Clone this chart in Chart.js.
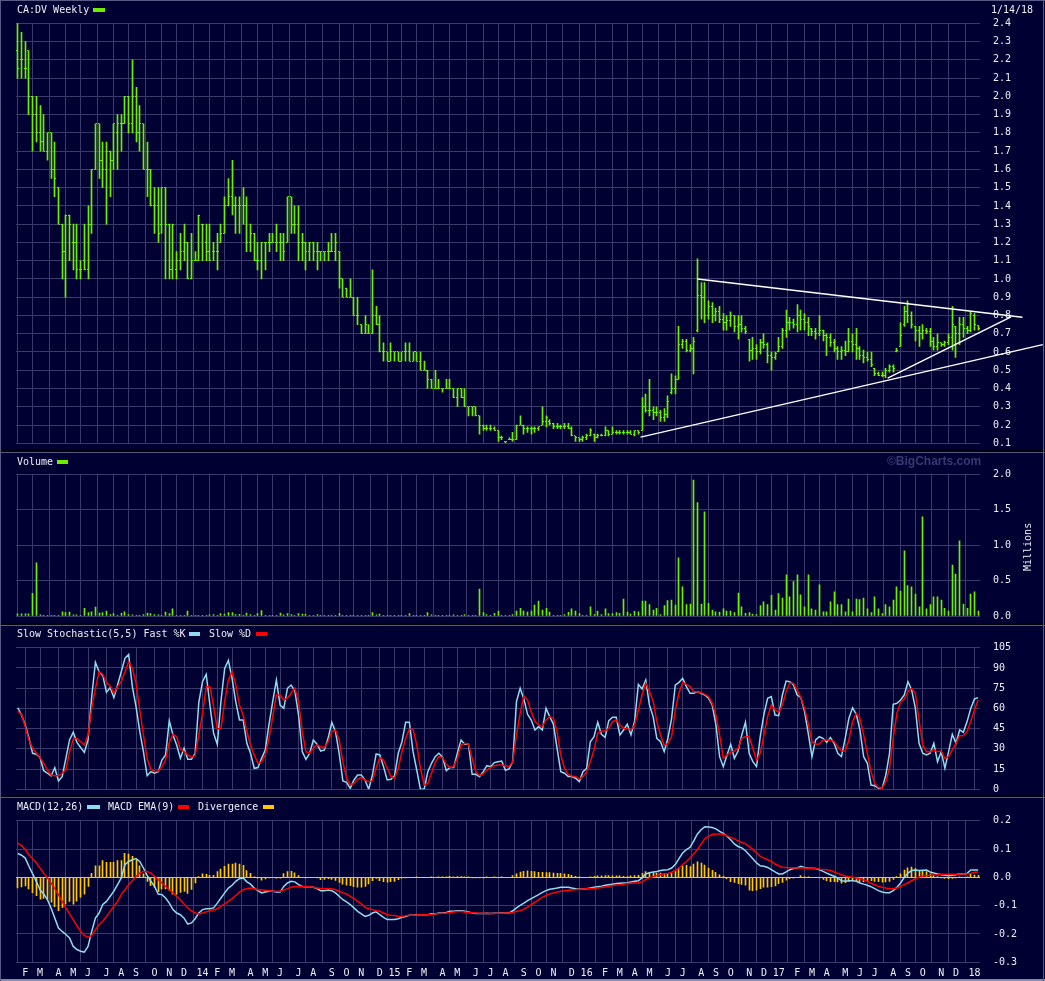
<!DOCTYPE html>
<html lang="en">
<head>
<meta charset="UTF-8">
<title>CA:DV Weekly</title>
<script src="https://cdn.jsdelivr.net/npm/chart.js"></script>
<style>
  body { margin: 0; width: 1045px; height: 981px; background: #000033; position: relative; overflow: hidden;
         font-family: "DejaVu Sans Mono", monospace; font-size: 10px; color: #eeeef4; }
  canvas { position: absolute; left: 0; }
  .txt { position: absolute; white-space: pre; line-height: 10px; }
  .sw { position: absolute; height: 4px; }
  .rule { position: absolute; left: 0; width: 1045px; }
  .vrule { position: absolute; top: 0; height: 981px; width: 1px; background: #5a5a86; }
</style>
</head>
<body>
<canvas id="priceChart" width="1045" height="452" style="top:0"></canvas>
<canvas id="volChart" width="1045" height="172" style="top:452px"></canvas>
<canvas id="stochChart" width="1045" height="171" style="top:625px"></canvas>
<canvas id="macdChart" width="1045" height="184" style="top:797px"></canvas>

<!-- panel frames -->
<div class="rule" style="top:0;height:1px;background:#5a5a86"></div>
<div class="rule" style="top:450px;height:2px;background:#000008"></div>
<div class="rule" style="top:452px;height:1px;background:#5a5a86"></div>
<div class="rule" style="top:623px;height:2px;background:#000008"></div>
<div class="rule" style="top:625px;height:1px;background:#5a5a86"></div>
<div class="rule" style="top:795px;height:2px;background:#000008"></div>
<div class="rule" style="top:797px;height:1px;background:#5a5a86"></div>
<div class="rule" style="top:979px;height:2px;background:#8a8aa8"></div>
<div class="vrule" style="left:0"></div>
<div class="vrule" style="left:1043px"></div>

<!-- titles and legends -->
<div class="txt" style="left:17px;top:5px">CA:DV Weekly</div>
<div class="sw" style="left:93px;top:8px;width:12px;background:#6cf000"></div>
<div class="txt" style="left:991px;top:5px">1/14/18</div>

<div class="txt" style="left:17px;top:457px">Volume</div>
<div class="sw" style="left:57px;top:460px;width:11px;background:#6cf000"></div>
<div class="txt" style="left:887px;top:455px;font:bold 12px 'Liberation Sans',sans-serif;line-height:12px;color:#383872">©BigCharts.com</div>
<div class="txt" style="left:1004px;top:542px;width:48px;text-align:center;transform:rotate(-90deg)">Millions</div>

<div class="txt" style="left:17px;top:629px">Slow Stochastic(5,5) Fast %K</div>
<div class="sw" style="left:189px;top:632px;width:11px;background:#8fdcec"></div>
<div class="txt" style="left:209px;top:629px">Slow %D</div>
<div class="sw" style="left:256px;top:632px;width:11px;background:#ff0000"></div>

<div class="txt" style="left:17px;top:802px">MACD(12,26)</div>
<div class="sw" style="left:87px;top:805px;width:13px;background:#8fdcec"></div>
<div class="txt" style="left:108px;top:802px">MACD EMA(9)</div>
<div class="sw" style="left:178px;top:805px;width:11px;background:#ff0000"></div>
<div class="txt" style="left:198px;top:802px">Divergence</div>
<div class="sw" style="left:263px;top:805px;width:11px;background:#ffc800"></div>

<script>
// weekly bars, weeks ending on Sunday, first week ends 2013-01-20
const firstWeek = Date.UTC(2013, 0, 20);
const monthLetters = ['J', 'F', 'M', 'A', 'M', 'J', 'J', 'A', 'S', 'O', 'N', 'D'];

const high = [
  2.40,2.35,2.30,2.25,2.00,2.00,1.95,1.90,1.80,1.80, 1.75,1.50,1.30,1.35,1.35,1.30,1.30,1.10,1.30,1.40,
  1.60,1.85,1.85,1.75,1.75,1.70,1.85,1.90,1.90,2.00, 2.00,2.20,2.05,1.95,1.85,1.75,1.60,1.50,1.50,1.50,
  1.50,1.30,1.30,1.15,1.25,1.30,1.20,1.25,1.15,1.35, 1.30,1.30,1.30,1.20,1.25,1.30,1.45,1.55,1.65,1.45,
  1.45,1.50,1.45,1.30,1.25,1.20,1.20,1.20,1.25,1.25, 1.30,1.25,1.25,1.45,1.45,1.40,1.40,1.25,1.20,1.20,
  1.20,1.20,1.15,1.15,1.20,1.25,1.25,1.15,1.00,0.95, 1.00,0.90,0.90,0.75,0.80,0.75,1.05,0.85,0.80,0.65,
  0.60,0.65,0.60,0.60,0.60,0.65,0.65,0.60,0.60,0.60, 0.55,0.50,0.45,0.50,0.45,0.40,0.45,0.45,0.40,0.40,
  0.40,0.40,0.30,0.30,0.30,0.25,0.20,0.20,0.20,0.19, 0.17,0.14,0.11,0.13,0.16,0.20,0.25,0.20,0.19,0.19,
  0.19,0.19,0.30,0.25,0.23,0.21,0.21,0.20,0.21,0.21, 0.19,0.14,0.13,0.14,0.15,0.18,0.15,0.15,0.15,0.19,
  0.17,0.19,0.17,0.17,0.17,0.17,0.17,0.17,0.17,0.35, 0.37,0.45,0.30,0.30,0.28,0.29,0.36,0.48,0.47,0.74,
  0.67,0.67,0.64,0.68,1.11,0.98,0.98,0.88,0.87,0.84, 0.85,0.81,0.80,0.82,0.80,0.80,0.80,0.74,0.67,0.68,
  0.64,0.67,0.70,0.65,0.60,0.60,0.68,0.73,0.83,0.79, 0.78,0.86,0.83,0.81,0.79,0.73,0.73,0.80,0.72,0.70,
  0.70,0.67,0.63,0.63,0.66,0.73,0.70,0.73,0.63,0.61, 0.60,0.60,0.51,0.49,0.49,0.51,0.53,0.53,0.62,0.76,
  0.85,0.88,0.82,0.74,0.74,0.75,0.73,0.73,0.68,0.70, 0.65,0.66,0.70,0.85,0.74,0.79,0.79,0.74,0.82,0.81,
  0.745
];
const low = [
  2.10,2.10,2.10,1.90,1.70,1.75,1.70,1.70,1.65,1.55, 1.45,1.30,1.00,0.90,1.10,1.05,1.00,1.00,1.05,1.00,
  1.25,1.60,1.55,1.50,1.30,1.45,1.60,1.60,1.70,1.85, 1.80,1.80,1.75,1.70,1.60,1.45,1.40,1.25,1.20,1.25,
  1.00,1.00,1.00,1.00,1.05,1.10,1.00,1.00,1.10,1.10, 1.10,1.10,1.10,1.10,1.05,1.20,1.25,1.40,1.35,1.25,
  1.25,1.30,1.15,1.15,1.10,1.05,1.00,1.05,1.15,1.20, 1.15,1.10,1.10,1.20,1.25,1.25,1.10,1.10,1.05,1.10,
  1.10,1.05,1.10,1.10,1.10,1.15,1.10,0.95,0.90,0.90, 0.90,0.80,0.75,0.70,0.70,0.70,0.70,0.75,0.60,0.55,
  0.55,0.55,0.55,0.55,0.55,0.55,0.55,0.55,0.55,0.50, 0.50,0.40,0.40,0.40,0.40,0.38,0.40,0.40,0.35,0.30,
  0.35,0.30,0.25,0.25,0.25,0.15,0.17,0.17,0.17,0.17, 0.11,0.12,0.10,0.12,0.11,0.12,0.20,0.15,0.16,0.15,
  0.16,0.17,0.20,0.19,0.20,0.18,0.18,0.18,0.18,0.18, 0.14,0.11,0.11,0.11,0.12,0.14,0.11,0.13,0.14,0.14,
  0.14,0.15,0.15,0.15,0.15,0.15,0.15,0.14,0.15,0.17, 0.27,0.25,0.23,0.25,0.22,0.22,0.24,0.37,0.37,0.45,
  0.62,0.60,0.60,0.48,0.71,0.78,0.76,0.78,0.76,0.77, 0.76,0.72,0.72,0.74,0.71,0.67,0.71,0.70,0.55,0.56,
  0.56,0.59,0.62,0.54,0.50,0.56,0.60,0.62,0.68,0.72, 0.73,0.71,0.72,0.72,0.69,0.69,0.67,0.69,0.66,0.58,
  0.63,0.60,0.56,0.56,0.58,0.60,0.60,0.56,0.56,0.54, 0.55,0.52,0.47,0.47,0.465,0.46,0.49,0.49,0.60,0.63,
  0.74,0.76,0.73,0.66,0.63,0.67,0.70,0.63,0.61,0.61, 0.63,0.63,0.64,0.61,0.57,0.64,0.68,0.70,0.71,0.72,
  0.72
];
const open = [
  2.25,2.20,2.15,2.25,2.00,1.90,1.80,1.75,1.70,1.80, 1.60,1.50,1.30,1.15,1.35,1.20,1.20,1.05,1.10,1.05,
  1.30,1.60,1.85,1.65,1.60,1.70,1.65,1.80,1.85,1.85, 2.00,1.85,2.00,1.80,1.85,1.60,1.60,1.40,1.40,1.30,
  1.50,1.30,1.05,1.05,1.10,1.15,1.20,1.00,1.10,1.10, 1.30,1.20,1.15,1.15,1.15,1.20,1.25,1.40,1.45,1.40,
  1.40,1.40,1.40,1.20,1.25,1.10,1.10,1.20,1.20,1.20, 1.20,1.20,1.20,1.20,1.45,1.30,1.30,1.20,1.20,1.15,
  1.20,1.15,1.15,1.15,1.15,1.15,1.15,1.15,1.00,0.95, 0.90,0.90,0.80,0.75,0.70,0.70,0.70,0.80,0.75,0.60,
  0.60,0.55,0.60,0.60,0.55,0.60,0.60,0.55,0.60,0.55, 0.50,0.50,0.45,0.40,0.40,0.40,0.40,0.40,0.40,0.35,
  0.40,0.35,0.30,0.30,0.30,0.25,0.20,0.18,0.18,0.18, 0.17,0.13,0.11,0.12,0.12,0.12,0.20,0.20,0.18,0.18,
  0.18,0.18,0.20,0.22,0.22,0.21,0.19,0.19,0.19,0.19, 0.18,0.14,0.13,0.12,0.13,0.14,0.15,0.13,0.14,0.14,
  0.17,0.15,0.16,0.16,0.16,0.16,0.16,0.15,0.17,0.17, 0.30,0.28,0.28,0.27,0.27,0.24,0.26,0.38,0.40,0.45,
  0.64,0.66,0.61,0.62,0.72,0.91,0.90,0.80,0.85,0.80, 0.82,0.78,0.76,0.77,0.80,0.74,0.75,0.73,0.67,0.61,
  0.62,0.60,0.65,0.64,0.58,0.57,0.60,0.63,0.72,0.76, 0.76,0.75,0.80,0.78,0.76,0.73,0.71,0.70,0.72,0.69,
  0.68,0.65,0.62,0.60,0.61,0.60,0.66,0.64,0.62,0.58, 0.57,0.56,0.51,0.48,0.47,0.47,0.50,0.52,0.60,0.63,
  0.75,0.82,0.80,0.74,0.72,0.70,0.72,0.71,0.66,0.63, 0.65,0.64,0.65,0.68,0.74,0.70,0.75,0.73,0.72,0.80,
  0.745
];
const close = [
  2.15,2.20,2.15,2.00,1.90,1.80,1.75,1.70,1.80,1.60, 1.55,1.30,1.15,1.35,1.30,1.20,1.05,1.05,1.05,1.30,
  1.60,1.85,1.65,1.60,1.70,1.65,1.85,1.85,1.85,2.00, 1.85,2.00,1.80,1.85,1.60,1.60,1.40,1.40,1.25,1.50,
  1.30,1.05,1.30,1.10,1.15,1.20,1.00,1.10,1.10,1.35, 1.30,1.15,1.10,1.15,1.15,1.25,1.40,1.45,1.40,1.40,
  1.40,1.40,1.20,1.25,1.10,1.10,1.20,1.20,1.20,1.20, 1.20,1.20,1.15,1.45,1.30,1.30,1.20,1.20,1.15,1.20,
  1.15,1.15,1.15,1.15,1.15,1.15,1.20,1.00,0.90,0.90, 0.90,0.80,0.80,0.70,0.75,0.70,0.80,0.75,0.60,0.60,
  0.55,0.60,0.60,0.55,0.60,0.60,0.55,0.60,0.55,0.50, 0.50,0.45,0.40,0.40,0.40,0.40,0.40,0.40,0.35,0.40,
  0.35,0.30,0.30,0.30,0.25,0.20,0.18,0.18,0.18,0.17, 0.13,0.13,0.11,0.12,0.12,0.20,0.20,0.18,0.18,0.18,
  0.18,0.19,0.22,0.24,0.21,0.19,0.19,0.19,0.19,0.18, 0.14,0.13,0.12,0.13,0.14,0.17,0.13,0.14,0.14,0.17,
  0.15,0.16,0.16,0.16,0.16,0.16,0.15,0.17,0.16,0.30, 0.28,0.28,0.27,0.27,0.24,0.26,0.33,0.40,0.45,0.64,
  0.66,0.61,0.62,0.66,0.91,0.90,0.80,0.85,0.80,0.82, 0.78,0.76,0.77,0.80,0.74,0.75,0.73,0.71,0.61,0.62,
  0.60,0.65,0.64,0.58,0.57,0.59,0.63,0.72,0.76,0.76, 0.75,0.80,0.78,0.76,0.74,0.71,0.70,0.72,0.69,0.68,
  0.65,0.62,0.60,0.61,0.60,0.66,0.64,0.62,0.58,0.57, 0.56,0.53,0.48,0.47,0.47,0.50,0.52,0.51,0.61,0.69,
  0.82,0.80,0.75,0.72,0.70,0.72,0.71,0.66,0.63,0.65, 0.64,0.65,0.68,0.75,0.70,0.75,0.73,0.72,0.81,0.75,
  0.73
];
// volume, millions of shares
const volume = [
  0.03,0.03,0.03,0.03,0.32,0.75,0.015,0.005,0.005,0.003, 0.005,0.002,0.06,0.05,0.055,0.015,0.015,0.004,0.11,0.047,
  0.06,0.127,0.042,0.047,0.07,0.02,0.033,0.005,0.038,0.06, 0.02,0.015,0.01,0.005,0.02,0.042,0.033,0.02,0.015,0.01,
  0.056,0.033,0.1,0.01,0.005,0.002,0.07,0.01,0.003,0.003, 0.002,0.01,0.015,0.02,0.003,0.033,0.028,0.047,0.047,0.02,
  0.024,0.003,0.042,0.02,0.01,0.033,0.075,0.01,0.005,0.002, 0.005,0.042,0.015,0.033,0.02,0.003,0.033,0.028,0.024,0.002,
  0.01,0.02,0.002,0.005,0.002,0.005,0.002,0.033,0.01,0.002, 0.002,0.002,0.01,0.002,0.002,0.002,0.047,0.015,0.028,0.005,
  0.002,0.002,0.002,0.005,0.005,0.005,0.033,0.002,0.002,0.01, 0.002,0.047,0.015,0.005,0.002,0.002,0.005,0.002,0.015,0.002,
  0.002,0.02,0.005,0.002,0.002,0.38,0.047,0.02,0.002,0.038, 0.07,0.005,0.002,0.002,0.02,0.07,0.108,0.07,0.056,0.07,
  0.155,0.21,0.085,0.108,0.056,0.005,0.002,0.005,0.02,0.052, 0.1,0.07,0.033,0.002,0.005,0.13,0.02,0.07,0.02,0.1,
  0.033,0.033,0.047,0.038,0.24,0.056,0.028,0.066,0.06,0.21, 0.21,0.16,0.085,0.11,0.02,0.146,0.216,0.226,0.155,0.82,
  0.41,0.16,0.17,1.92,1.6,0.17,1.47,0.18,0.085,0.06, 0.056,0.1,0.07,0.07,0.047,0.325,0.13,0.038,0.047,0.028,
  0.02,0.146,0.2,0.16,0.29,0.085,0.315,0.254,0.58,0.27, 0.485,0.58,0.3,0.13,0.58,0.1,0.085,0.44,0.06,0.06,
  0.2,0.34,0.16,0.16,0.06,0.24,0.06,0.24,0.23,0.254, 0.1,0.047,0.27,0.1,0.033,0.16,0.13,0.226,0.41,0.35,
  0.92,0.43,0.41,0.31,0.13,1.4,0.1,0.16,0.27,0.27, 0.226,0.108,0.07,0.72,0.59,1.06,0.17,0.11,0.31,0.34,
  0.07
];
const stochK = [
  60.5,55,47.7,38,26.7,26,23.7,13.8,11.9,9.9, 16,6.2,9.4,23,36.6,42.3,34.8,31,27.4,36.6,
  68.7,94.1,87.2,84.3,71.9,75.4,68,77.3,87.2,97.1, 100,76.1,61.3,43.2,27.9,10.1,13.1,11.9,13.1,21.7,
  25.5,50.9,40.3,32.9,23,30.4,22.2,22.2,26.7,64.5, 79.8,85.2,62.5,41.5,33.4,65.5,89.7,95.6,82.3,65,
  51.4,51.4,34.1,26.7,15.6,16.1,23,29.2,48.2,65, 81,62.5,60,74.9,77.3,72.9,55.1,27.9,22.2,26.7,
  36.6,33.4,28.4,29.2,37.8,49.7,42.7,26.7,6.2,5.2, 0.7,6.9,10.6,10.6,6.9,0,10.6,26.2,25.5,16.8,
  6.9,7.4,10.1,26.7,35.3,49.7,49.7,27.9,14.3,0, 0,13.1,19.3,24.2,26.7,23.7,13.8,16.1,16.1,26.7,
  36.6,33.4,33.4,11.1,11.1,9.4,13.1,17.5,16.8,19.8, 20.5,21,14.1,15.1,20.5,65,74.9,67,55.6,51.4,
  44,46.5,44,60,53.9,48.2,30.4,13.1,11.9,9.4, 9.4,8.2,5.7,13.1,15.6,35.3,39,49.7,40.8,38.5,
  50.9,53.4,53.4,40.3,44,48.2,40.3,50.7,77.8,74.4, 81,62.5,53.9,37.8,35.3,27.9,37.8,52.6,77.3,79.3,
  82.3,76.1,71.2,71.2,72.4,71.2,69.9,67.5,62.5,47.7, 24.2,16.8,25.5,33.4,23,28.4,40.3,49.7,26.7,20.5,
  16.8,39,55.6,67.5,68.7,55.1,54.6,69.9,80.3,79.8, 77.3,69.9,68,57.6,41.5,24.2,36.6,39,37.8,34.8,
  38.3,34.1,26.7,24.2,37.8,52.6,60.5,55.6,44,24.2, 19.3,3.2,2.7,0.7,0.7,10.6,26.7,63,63.8,66.2,
  69.9,79.8,73.6,60,34.1,26.7,25.5,26.7,34.1,20.5, 27.9,15.6,27.9,40.8,34.1,44,42.3,50.2,60,67,
  68
];
const stochD = [
  58,55.6,46.5,36.6,30.4,26.7,23.7,19.3,14.3,10.6, 10.1,10.1,11.9,14.3,27.9,37.1,37.8,35.3,32.9,40.3,
  60,74.9,87.2,85.2,79.3,76.6,71.2,76.1,79.8,87.2, 94.6,89.7,78.6,58.8,40.3,23,15.1,13.1,13.6,16.8,
  21.7,34.8,40.8,39,29.7,27.9,25.5,23.7,25,40.3, 56.3,76.1,76.1,61.3,44.7,45.2,65,81,87.2,77.8,
  62.5,55.1,42.7,32.9,25.5,19.3,20.5,25.5,37.8,53.9, 69.9,69.9,66.2,67.5,71.2,74.9,65,42.7,27.9,26.7,
  30.4,32.9,31.6,30.9,35.3,42.7,44,36.6,20.5,8.2, 3.2,4.4,7.4,8.9,6.9,5.7,6.2,15.6,23.5,21.7,
  15.6,9.4,8.2,15.6,27.9,37.8,44.5,44.5,32.9,15.6, 3.2,4.4,11.9,20,24.2,23.5,18.5,16.1,16.8,23,
  32.9,34.1,33.4,23,13.1,10.1,11.4,14.3,16.1,17.5, 18,18,17.5,16.8,20.5,40.3,56.3,69.4,66.2,57.6,
  50.2,47.7,46.5,51.4,53.9,52.6,42.7,25.5,15.6,11.1, 9.9,9.4,7.7,9.4,13.1,20.5,29.2,41.5,43.2,43.2,
  45.2,50.2,51.4,47.7,45.2,44.7,44,47.7,58.8,69.9, 78.6,72.4,65.5,50.2,40.3,32.4,34.1,39,58.8,71.2,
  79.3,77.8,76.1,72.4,72.4,71.7,70.4,68.7,63.8,55.1, 40.3,23,25.5,27.4,28.4,30.4,37.8,39,39,30.4,
  21.7,26.7,40.3,53.9,62.5,58.8,57.1,62.5,72.4,78.6, 78.6,73.6,68,60,48.9,35.3,33.4,33.6,36.6,36.6,
  36.6,35.3,31.6,28.4,28.4,36.6,50.2,56.3,52.6,40.3, 26.7,13.1,4.4,1.2,0.7,5.7,15.6,37.8,56.3,64.5,
  67,72.4,74.9,71.2,51.4,32.9,27.9,27.9,29.2,27.9, 28.4,23,24.2,29.2,34.1,39.8,39.8,42.7,50.2,58.8,
  66.2
];
const macd = [
  0.084,0.078,0.068,0.039,0.012,-0.014,-0.044,-0.059,-0.079,-0.108, -0.144,-0.179,-0.191,-0.202,-0.214,-0.244,-0.255,-0.261,-0.264,-0.244,
  -0.191,-0.144,-0.126,-0.096,-0.085,-0.067,-0.049,-0.026,-0.002,0.045, 0.056,0.062,0.066,0.056,0.033,0.007,-0.014,-0.032,-0.059,-0.061,
  -0.073,-0.091,-0.114,-0.126,-0.132,-0.144,-0.165,-0.161,-0.146,-0.126, -0.114,-0.111,-0.111,-0.108,-0.091,-0.073,-0.055,-0.038,-0.028,-0.014,
  -0.005,-0.002,-0.016,-0.024,-0.038,-0.047,-0.055,-0.052,-0.049,-0.049, -0.052,-0.052,-0.032,-0.020,-0.014,-0.016,-0.026,-0.032,-0.033,-0.033,
  -0.035,-0.040,-0.047,-0.047,-0.045,-0.047,-0.055,-0.067,-0.079,-0.087, -0.096,-0.108,-0.120,-0.129,-0.138,-0.134,-0.126,-0.122,-0.132,-0.141,
  -0.149,-0.149,-0.149,-0.146,-0.141,-0.138,-0.134,-0.134,-0.132,-0.132, -0.132,-0.132,-0.129,-0.129,-0.126,-0.126,-0.124,-0.120,-0.120,-0.118,
  -0.118,-0.120,-0.122,-0.126,-0.128,-0.128,-0.128,-0.127,-0.128,-0.127, -0.127,-0.126,-0.126,-0.126,-0.118,-0.108,-0.099,-0.091,-0.082,-0.075,
  -0.068,-0.061,-0.053,-0.047,-0.042,-0.040,-0.038,-0.035,-0.035,-0.035, -0.038,-0.040,-0.041,-0.041,-0.040,-0.038,-0.035,-0.033,-0.031,-0.028,
  -0.026,-0.024,-0.022,-0.021,-0.020,-0.019,-0.016,-0.014,-0.012,-0.002, 0.012,0.016,0.019,0.021,0.024,0.026,0.027,0.033,0.045,0.066,
  0.086,0.098,0.106,0.129,0.153,0.168,0.179,0.178,0.176,0.171, 0.162,0.155,0.145,0.133,0.118,0.109,0.104,0.094,0.080,0.066,
  0.051,0.041,0.039,0.035,0.027,0.019,0.012,0.012,0.019,0.027, 0.031,0.033,0.039,0.035,0.033,0.032,0.031,0.027,0.021,0.015,
  0.009,0.004,-0.002,-0.012,-0.014,-0.012,-0.012,-0.014,-0.020,-0.024, -0.028,-0.033,-0.040,-0.047,-0.052,-0.054,-0.054,-0.047,-0.035,-0.020,
  0.000,0.015,0.024,0.026,0.024,0.025,0.026,0.019,0.015,0.012, 0.009,0.007,0.006,0.007,0.009,0.013,0.012,0.014,0.026,0.026,
  0.026
];
const macdSignal = [
  0.121,0.112,0.098,0.080,0.066,0.051,0.033,0.015,-0.002,-0.020, -0.040,-0.061,-0.085,-0.108,-0.129,-0.149,-0.171,-0.191,-0.205,-0.212,
  -0.205,-0.185,-0.167,-0.155,-0.138,-0.120,-0.102,-0.085,-0.061,-0.044, -0.026,-0.012,0.004,0.015,0.021,0.021,0.015,0.004,-0.008,-0.020,
  -0.032,-0.044,-0.055,-0.067,-0.079,-0.094,-0.108,-0.118,-0.126,-0.129, -0.126,-0.122,-0.118,-0.115,-0.111,-0.102,-0.094,-0.085,-0.075,-0.064,
  -0.052,-0.044,-0.040,-0.038,-0.040,-0.044,-0.045,-0.046,-0.047,-0.049, -0.049,-0.049,-0.045,-0.040,-0.035,-0.032,-0.032,-0.032,-0.032,-0.033,
  -0.035,-0.038,-0.039,-0.040,-0.040,-0.040,-0.044,-0.049,-0.055,-0.059, -0.067,-0.075,-0.085,-0.094,-0.106,-0.111,-0.114,-0.118,-0.120,-0.126,
  -0.132,-0.134,-0.135,-0.138,-0.138,-0.136,-0.134,-0.134,-0.133,-0.132, -0.132,-0.132,-0.131,-0.129,-0.128,-0.127,-0.126,-0.124,-0.122,-0.121,
  -0.121,-0.122,-0.124,-0.125,-0.126,-0.127,-0.127,-0.128,-0.128,-0.128, -0.127,-0.127,-0.126,-0.126,-0.124,-0.120,-0.118,-0.112,-0.105,-0.096,
  -0.088,-0.079,-0.071,-0.064,-0.059,-0.055,-0.052,-0.049,-0.047,-0.046, -0.045,-0.044,-0.042,-0.041,-0.040,-0.040,-0.039,-0.038,-0.036,-0.034,
  -0.032,-0.029,-0.027,-0.026,-0.024,-0.022,-0.021,-0.020,-0.019,-0.016, -0.008,-0.002,0.002,0.006,0.009,0.012,0.014,0.018,0.024,0.033,
  0.045,0.056,0.068,0.082,0.098,0.118,0.136,0.145,0.151,0.153, 0.153,0.151,0.147,0.141,0.136,0.129,0.124,0.118,0.109,0.098,
  0.086,0.074,0.068,0.062,0.056,0.047,0.041,0.036,0.035,0.034, 0.033,0.033,0.033,0.033,0.032,0.032,0.031,0.029,0.028,0.027,
  0.024,0.019,0.014,0.009,0.005,0.002,0.000,-0.002,-0.005,-0.009, -0.014,-0.021,-0.026,-0.032,-0.035,-0.038,-0.040,-0.040,-0.038,-0.032,
  -0.026,-0.019,-0.012,-0.005,0.001,0.004,0.006,0.007,0.008,0.009, 0.011,0.011,0.011,0.011,0.011,0.012,0.012,0.012,0.014,0.018,
  0.019
];
const divergence = [
  -0.037,-0.034,-0.030,-0.041,-0.054,-0.065,-0.077,-0.074,-0.077,-0.088, -0.104,-0.118,-0.106,-0.094,-0.085,-0.095,-0.084,-0.070,-0.059,-0.032,
  0.014,0.041,0.041,0.059,0.053,0.053,0.053,0.059,0.059,0.085, 0.082,0.074,0.062,0.041,0.012,-0.014,-0.029,-0.036,-0.051,-0.041,
  -0.041,-0.047,-0.059,-0.059,-0.053,-0.050,-0.057,-0.043,-0.020,0.003, 0.012,0.011,0.007,0.007,0.020,0.029,0.039,0.047,0.047,0.050,
  0.047,0.042,0.024,0.014,0.002,-0.003,-0.010,-0.006,-0.002,0.000, -0.003,-0.003,0.013,0.020,0.021,0.016,0.006,0.000,-0.001,0.000,
  0.000,-0.002,-0.008,-0.007,-0.005,-0.007,-0.011,-0.018,-0.024,-0.028, -0.029,-0.033,-0.035,-0.035,-0.032,-0.023,-0.012,-0.004,-0.012,-0.015,
  -0.017,-0.015,-0.014,-0.008,-0.003,-0.002,0.000,0.000,0.001,0.000, 0.000,0.000,0.002,0.000,0.002,0.001,0.002,0.004,0.002,0.003,
  0.003,0.002,0.002,-0.001,-0.002,-0.001,-0.001,0.001,0.000,0.001, 0.000,0.001,0.000,0.000,0.006,0.012,0.019,0.021,0.023,0.021,
  0.020,0.018,0.018,0.017,0.017,0.015,0.014,0.014,0.012,0.011, 0.007,0.004,0.001,0.000,0.000,0.002,0.004,0.005,0.005,0.006,
  0.006,0.005,0.005,0.005,0.004,0.003,0.005,0.006,0.007,0.014, 0.020,0.018,0.017,0.015,0.015,0.014,0.013,0.015,0.021,0.033,
  0.041,0.042,0.038,0.047,0.055,0.050,0.043,0.033,0.025,0.018, 0.009,0.004,-0.005,-0.015,-0.018,-0.022,-0.025,-0.028,-0.045,-0.047,
  -0.045,-0.040,-0.035,-0.035,-0.033,-0.030,-0.022,-0.018,-0.010,-0.005, -0.003,0.000,0.006,0.002,0.001,0.000,0.000,-0.002,-0.007,-0.012,
  -0.015,-0.015,-0.016,-0.021,-0.019,-0.014,-0.012,-0.012,-0.015,-0.015, -0.014,-0.012,-0.014,-0.015,-0.017,-0.016,-0.014,-0.007,0.003,0.012,
  0.026,0.034,0.036,0.031,0.023,0.021,0.020,0.012,0.007,0.003, -0.002,-0.004,-0.005,-0.004,-0.002,0.001,0.000,0.002,0.012,0.008,
  0.007
];
// hand-drawn trend lines on the price panel: [week index, price] end points
const trendTop = [[184.0, 1.00], [272.0, 0.79]];
const trendBase = [[168.6, 0.134], [277.5, 0.640]];
const trendRise = [[235.5, 0.457], [268.9, 0.792]];

const GREEN = '#6cf000';
const CYAN = '#8fdcec';
const RED = '#ff0000';
const YELLOW = '#ffc800';
const GRID = '#3a3a6c';
const TEXT = '#eeeef4';
const FONT = { family: 'DejaVu Sans Mono', size: 10 };

const weeks = high.map((_, i) => i);

// month ticks: first week whose Sunday falls in a new month
const monthTicks = [];
let prevMonth = new Date(firstWeek).getUTCMonth();
weeks.forEach(i => {
    const d = new Date(firstWeek + i * 7 * 86400000);
    const m = d.getUTCMonth();
    if (m !== prevMonth) {
        const label = m === 0 ? String(d.getUTCFullYear() % 100).padStart(2, '0') : monthLetters[m];
        monthTicks.push({ value: i, label: label });
    }
    prevMonth = m;
});
const tickLabel = {};
monthTicks.forEach(t => { tickLabel[t.value] = t.label; });

function xAxis(showLabels) {
    return {
        type: 'linear',
        min: -0.5,
        max: high.length - 0.5,
        offset: false,
        afterBuildTicks: s => { s.ticks = monthTicks.map(t => ({ value: t.value })); },
        afterFit: s => { s.height = showLabels ? 16 : 0; },
        grid: { color: GRID, drawTicks: false },
        border: { display: false },
        ticks: {
            display: showLabels, autoSkip: false, maxRotation: 0, padding: 5,
            color: TEXT, font: FONT,
            callback: v => tickLabel[v] || ''
        }
    };
}

// labels sit 13px right of the plot: done with an invisible tick mark so the
// label padding does not eat into the plot height
function yAxis(min, max, step, fmt, gridColor) {
    return {
        position: 'right',
        min: min, max: max,
        afterFit: s => { s.width = 65; },
        grid: { color: gridColor || GRID, drawTicks: true, tickLength: 13, tickColor: 'rgba(0,0,0,0)' },
        border: { display: false },
        ticks: { stepSize: step, padding: 0, color: TEXT, font: FONT, callback: fmt }
    };
}

const baseOptions = {
    responsive: false,
    animation: false,
    events: [],
    plugins: { legend: { display: false }, tooltip: { enabled: false } }
};

// snap 1px bars onto whole pixels so they stay crisp
const snapBars = {
    id: 'snapBars',
    afterDatasetsUpdate(chart) {
        chart.data.datasets.forEach((ds, di) => {
            const meta = chart.getDatasetMeta(di);
            if (meta.type !== 'bar') return;
            meta.data.forEach(el => { el.x = Math.floor(el.x) + 0.5; });
        });
    }
};

// open tick on the left, close tick on the right of each price bar
const ohlcTicks = {
    id: 'ohlcTicks',
    afterDatasetsDraw(chart) {
        const { ctx, scales: { x, y } } = chart;
        ctx.save();
        ctx.fillStyle = GREEN;
        weeks.forEach(i => {
            const col = Math.floor(x.getPixelForValue(i));
            ctx.fillRect(col - 1, Math.floor(y.getPixelForValue(open[i])), 1, 1);
            ctx.fillRect(col + 1, Math.floor(y.getPixelForValue(close[i])), 1, 1);
        });
        ctx.restore();
    }
};

function trendSet(pts) {
    return {
        type: 'line',
        data: pts.map(p => ({ x: p[0], y: p[1] })),
        borderColor: '#ffffff',
        borderWidth: 1.4,
        pointRadius: 0,
        clip: false,
        order: 1
    };
}

new Chart(document.getElementById('priceChart'), {
    type: 'bar',
    data: {
        datasets: [
            {
                data: weeks.map(i => ({ x: i, y: [low[i], high[i]] })),
                backgroundColor: GREEN,
                borderWidth: 0,
                barThickness: 1,
                order: 2
            },
            trendSet(trendTop),
            trendSet(trendBase),
            trendSet(trendRise)
        ]
    },
    options: Object.assign({}, baseOptions, {
        layout: { padding: { left: 16, right: 0, top: 23.3, bottom: 8.7 } },
        scales: {
            x: xAxis(false),
            y: yAxis(0.1, 2.4, 0.1, v => v.toFixed(1))
        }
    }),
    plugins: [snapBars, ohlcTicks]
});

new Chart(document.getElementById('volChart'), {
    type: 'bar',
    data: {
        datasets: [{
            data: weeks.map(i => ({ x: i, y: volume[i] })),
            backgroundColor: GREEN,
            borderWidth: 0,
            barThickness: 1
        }]
    },
    options: Object.assign({}, baseOptions, {
        layout: { padding: { left: 16, right: 0, top: 22.3, bottom: 8 } },
        scales: {
            x: xAxis(false),
            y: yAxis(0, 2, 0.5, v => v.toFixed(1))
        }
    }),
    plugins: [snapBars]
});

function lineSet(values, color) {
    return {
        type: 'line',
        data: weeks.map(i => ({ x: i, y: values[i] })),
        borderColor: color,
        borderWidth: 1.5,
        pointRadius: 0,
        tension: 0
    };
}

new Chart(document.getElementById('stochChart'), {
    type: 'line',
    data: { datasets: [lineSet(stochD, RED), lineSet(stochK, CYAN)] },
    options: Object.assign({}, baseOptions, {
        layout: { padding: { left: 16, right: 0, top: 22.7, bottom: 6.7 } },
        scales: {
            x: xAxis(false),
            y: yAxis(0, 105, 15, v => String(Math.round(v)))
        }
    })
});

new Chart(document.getElementById('macdChart'), {
    type: 'bar',
    data: {
        datasets: [
            Object.assign(lineSet(macdSignal, RED), { order: 1 }),
            Object.assign(lineSet(macd, CYAN), { order: 1 }),
            {
                type: 'bar',
                data: weeks.map(i => ({ x: i, y: divergence[i] })),
                backgroundColor: YELLOW,
                borderWidth: 0,
                barThickness: 1,
                order: 2
            }
        ]
    },
    options: Object.assign({}, baseOptions, {
        layout: { padding: { left: 16, right: 0, top: 23.7, bottom: 2.7 } },
        scales: {
            x: xAxis(true),
            y: yAxis(-0.3, 0.2, 0.1, v => v.toFixed(1),
                c => Math.abs(c.tick.value) < 1e-9 ? YELLOW : GRID)
        }
    }),
    plugins: [snapBars]
});
</script>
</body>
</html>
